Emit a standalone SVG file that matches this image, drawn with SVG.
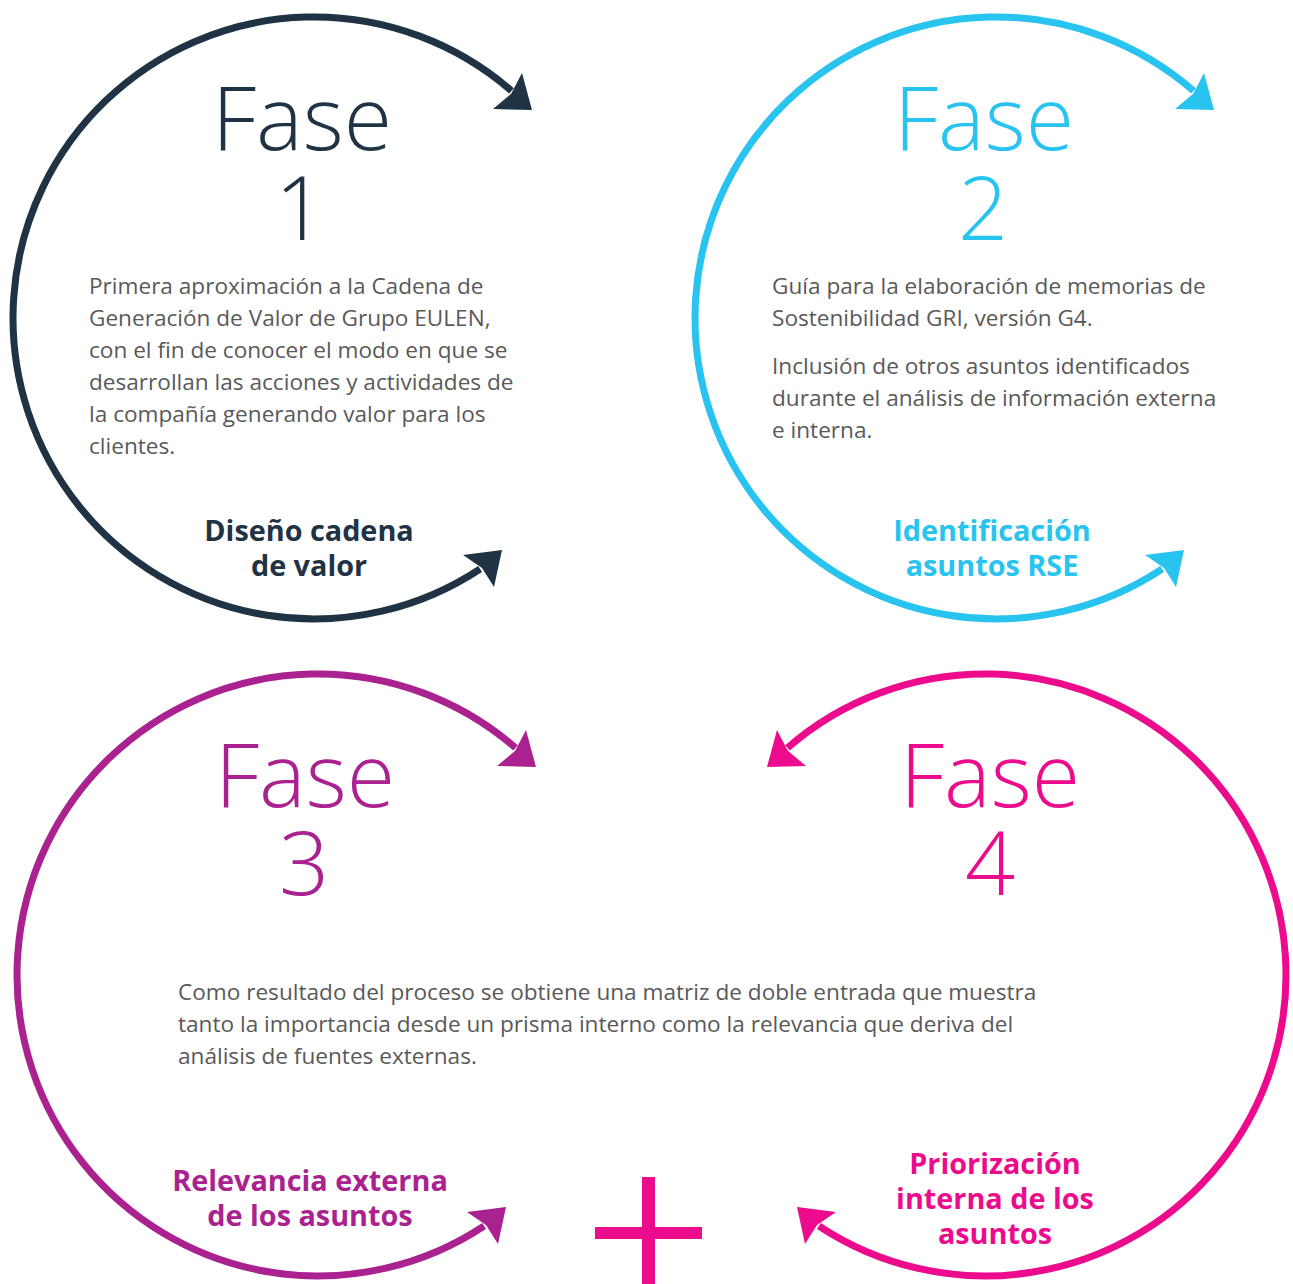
<svg xmlns="http://www.w3.org/2000/svg" width="1293" height="1284" viewBox="0 0 1293 1284">
<style>
.big{font-family:"Open Sans","Liberation Sans",sans-serif;font-weight:300;font-size:88px;text-anchor:middle}
.body{font-family:"Open Sans","Liberation Sans",sans-serif;font-size:22.6px;fill:#595959}
.lbl{font-family:"Open Sans","Liberation Sans",sans-serif;font-weight:700;font-size:28.8px;text-anchor:middle}
</style>
<defs>
<g id="loop">
<path d="M197.5 -227.2 A301 301 0 1 0 166.1 251" fill="none" stroke="currentColor" stroke-width="7"/>
<polygon points="218,-208 208,-245 197.2,-224.2 179,-209" fill="currentColor"/>
<polygon points="188,232 149,237 168,249.9 180,269" fill="currentColor"/>
</g>
</defs>
<rect width="1293" height="1284" fill="#ffffff"/>
<g id="connectors">
<use href="#loop" transform="translate(314,318)" color="#1f3344"/>
<use href="#loop" transform="translate(996,318)" color="#29c3f0"/>
<use href="#loop" transform="translate(318,975)" color="#aa2290"/>
<use href="#loop" transform="translate(985,975) scale(-1,1)" color="#ec0b8c"/>
</g>
<g id="fase1">
<text class="big" x="302" y="150" fill="#1f3344">Fase</text>
<text class="big" x="300" y="240" fill="#1f3344">1</text>
<text class="body" x="89" y="294">Primera aproximación a la Cadena de</text>
<text class="body" x="89" y="326">Generación de Valor de Grupo EULEN,</text>
<text class="body" x="89" y="358">con el fin de conocer el modo en que se</text>
<text class="body" x="89" y="390">desarrollan las acciones y actividades de</text>
<text class="body" x="89" y="422">la compañía generando valor para los</text>
<text class="body" x="89" y="454">clientes.</text>
<text class="lbl" x="309" y="541" fill="#1f3344">Diseño cadena</text>
<text class="lbl" x="309" y="576" fill="#1f3344">de valor</text>
</g>
<g id="fase2">
<text class="big" x="984" y="150" fill="#29c3f0">Fase</text>
<text class="big" x="983" y="240" fill="#29c3f0">2</text>
<text class="body" x="772" y="294">Guía para la elaboración de memorias de</text>
<text class="body" x="772" y="326">Sostenibilidad GRI, versión G4.</text>
<text class="body" x="772" y="374">Inclusión de otros asuntos identificados</text>
<text class="body" x="772" y="406">durante el análisis de información externa</text>
<text class="body" x="772" y="438">e interna.</text>
<text class="lbl" x="992" y="541" fill="#29c3f0">Identificación</text>
<text class="lbl" x="992" y="576" fill="#29c3f0">asuntos RSE</text>
</g>
<g id="fase3">
<text class="big" x="305" y="807" fill="#aa2290">Fase</text>
<text class="big" x="304" y="895" fill="#aa2290">3</text>
<text class="lbl" x="310" y="1191" fill="#aa2290">Relevancia externa</text>
<text class="lbl" x="310" y="1226" fill="#aa2290">de los asuntos</text>
</g>
<g id="fase4">
<text class="big" x="990" y="807" fill="#ec0b8c">Fase</text>
<text class="big" x="990" y="895" fill="#ec0b8c">4</text>
<text class="lbl" x="995" y="1174" fill="#ec0b8c">Priorización</text>
<text class="lbl" x="995" y="1209" fill="#ec0b8c">interna de los</text>
<text class="lbl" x="995" y="1244" fill="#ec0b8c">asuntos</text>
</g>
<g id="shared">
<text class="body" x="178" y="1000">Como resultado del proceso se obtiene una matriz de doble entrada que muestra</text>
<text class="body" x="178" y="1032">tanto la importancia desde un prisma interno como la relevancia que deriva del</text>
<text class="body" x="178" y="1064">análisis de fuentes externas.</text>
</g>
<g id="plus" fill="#ec0b8c">
<rect x="642" y="1177" width="13" height="107"/>
<rect x="595" y="1227" width="107" height="12"/>
</g>
</svg>
